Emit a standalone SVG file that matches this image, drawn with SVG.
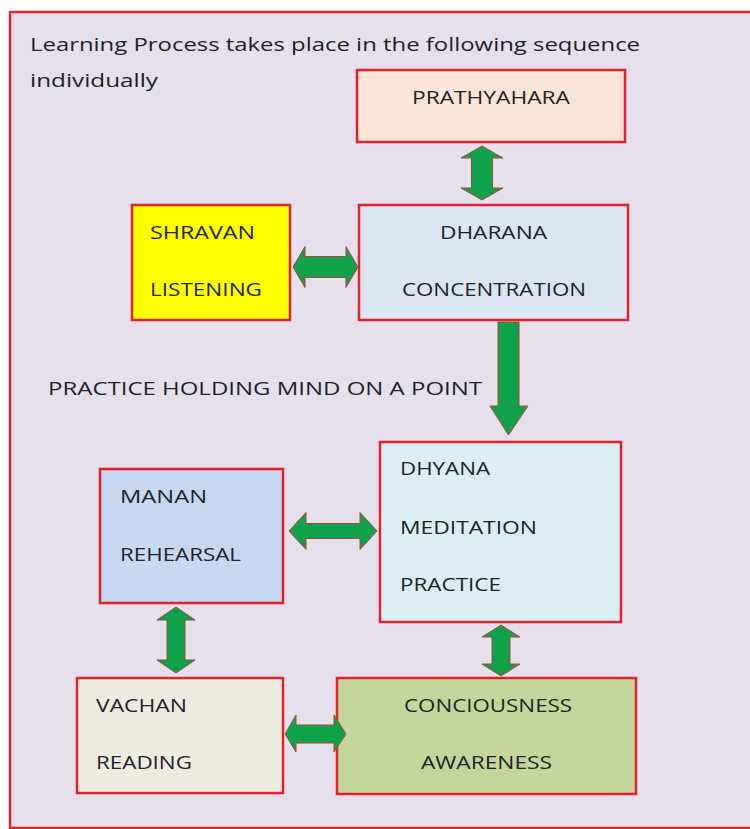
<svg xmlns="http://www.w3.org/2000/svg" width="750" height="829" viewBox="0 0 750 829">
<style>
.box{stroke:#E0232B;stroke-width:2.5}
.t{font-family:"Open Sans","Liberation Sans",sans-serif;font-size:18px;fill:#1E2328}
.arr{fill:#10A24A;stroke:#B0443A;stroke-width:1;stroke-linejoin:miter}
</style>
<rect x="0" y="0" width="750" height="829" fill="#FFFFFF"/>
<rect id="frame" x="10" y="12" width="750" height="816" fill="#E5E0EC" stroke="#D9272E" stroke-width="2.5"/>
<g id="title">
<text class="t" x="30" y="51" font-size="19.5" textLength="610" lengthAdjust="spacingAndGlyphs">Learning Process takes place in the following sequence</text>
<text class="t" x="30" y="87" font-size="19.5" textLength="128" lengthAdjust="spacingAndGlyphs">individually</text>
</g>
<g id="label-practice">
<text class="t" x="48" y="395" font-size="19.5" textLength="434" lengthAdjust="spacingAndGlyphs">PRACTICE HOLDING MIND ON A POINT</text>
</g>
<g id="node-prathyahara">
<rect class="box" x="357" y="70" width="268" height="72" fill="#FBE5D6"/>
<text class="t" x="412" y="104" textLength="158" lengthAdjust="spacingAndGlyphs">PRATHYAHARA</text>
</g>
<g id="node-shravan">
<rect class="box" x="132" y="205" width="158" height="115" fill="#FFFF00"/>
<text class="t" x="150" y="239" textLength="105" lengthAdjust="spacingAndGlyphs">SHRAVAN</text>
<text class="t" x="150" y="296" textLength="112" lengthAdjust="spacingAndGlyphs">LISTENING</text>
</g>
<g id="node-dharana">
<rect class="box" x="359" y="205" width="269" height="115" fill="#DCE6F2"/>
<text class="t" x="440" y="239" textLength="107" lengthAdjust="spacingAndGlyphs">DHARANA</text>
<text class="t" x="402" y="296" textLength="184" lengthAdjust="spacingAndGlyphs">CONCENTRATION</text>
</g>
<g id="node-dhyana">
<rect class="box" x="380" y="442" width="241" height="180" fill="#DAEEF3"/>
<text class="t" x="400" y="475" textLength="90" lengthAdjust="spacingAndGlyphs">DHYANA</text>
<text class="t" x="400" y="534" textLength="137" lengthAdjust="spacingAndGlyphs">MEDITATION</text>
<text class="t" x="400" y="591" textLength="101" lengthAdjust="spacingAndGlyphs">PRACTICE</text>
</g>
<g id="node-manan">
<rect class="box" x="100" y="469" width="183" height="134" fill="#C6D9F1"/>
<text class="t" x="120" y="503" textLength="87" lengthAdjust="spacingAndGlyphs">MANAN</text>
<text class="t" x="120" y="561" textLength="121" lengthAdjust="spacingAndGlyphs">REHEARSAL</text>
</g>
<g id="node-vachan">
<rect class="box" x="77" y="678" width="206" height="115" fill="#EEECE1"/>
<text class="t" x="96" y="712" textLength="91" lengthAdjust="spacingAndGlyphs">VACHAN</text>
<text class="t" x="96" y="769" textLength="96" lengthAdjust="spacingAndGlyphs">READING</text>
</g>
<g id="node-conciousness">
<rect class="box" x="337" y="678" width="299" height="116" fill="#C3D69B"/>
<text class="t" x="404" y="712" textLength="168" lengthAdjust="spacingAndGlyphs">CONCIOUSNESS</text>
<text class="t" x="421" y="769" textLength="131" lengthAdjust="spacingAndGlyphs">AWARENESS</text>
</g>
<g id="connectors">
<polygon class="arr" points="482,146 503,158 492.5,158 492.5,188 503,188 482,200 461,188 471.5,188 471.5,158 461,158"/>
<polygon class="arr" points="293,267 305,246.5 305,256.5 346,256.5 346,246.5 358,267 346,287.5 346,277.5 305,277.5 305,287.5"/>
<polygon class="arr" points="498,322 519,322 519,406 528,406 508.5,435 490,406 498,406"/>
<polygon class="arr" points="289,531 306,512.5 306,523.5 360,523.5 360,512.5 377,531 360,549.5 360,538.5 306,538.5 306,549.5"/>
<polygon class="arr" points="176,607 195,620 185,620 185,660 195,660 176,673 157,660 167,660 167,620 157,620"/>
<polygon class="arr" points="501,625 520,637 510,637 510,664 520,664 501,676 482,664 492,664 492,637 482,637"/>
<polygon class="arr" points="285,734 296,715 296,725 334,725 334,715 346,734 334,752 334,743 296,743 296,752"/>
</g>
</svg>
